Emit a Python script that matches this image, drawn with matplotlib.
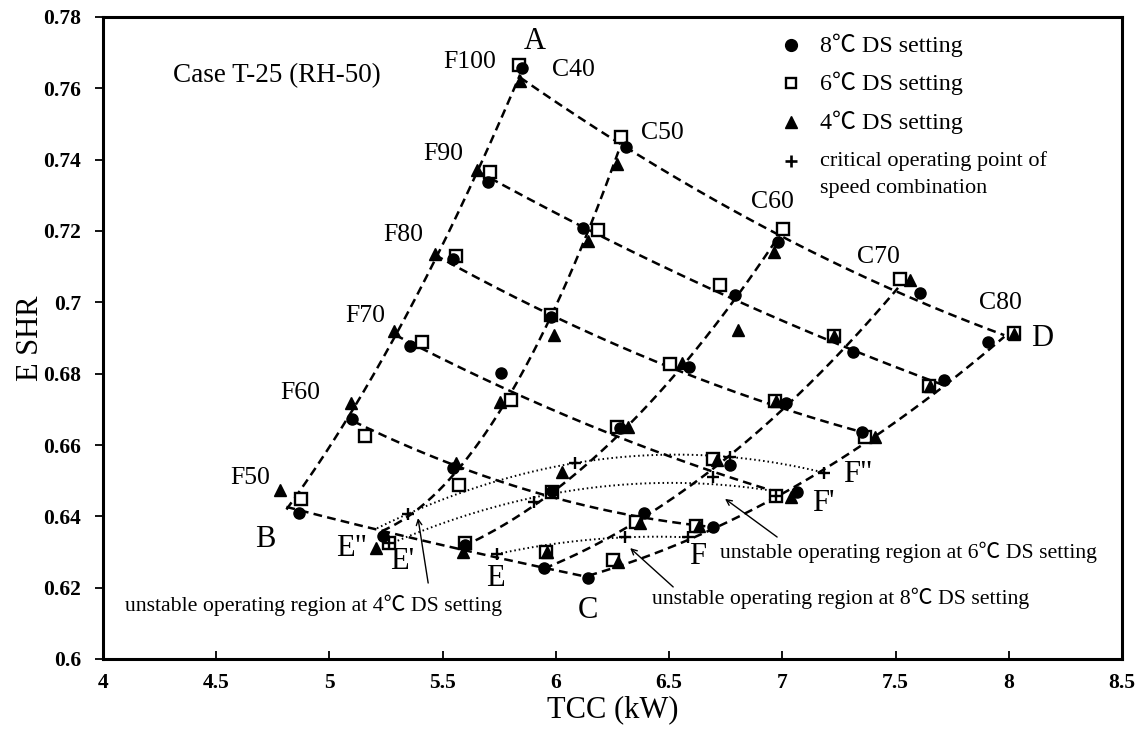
import numpy as np
import matplotlib
matplotlib.use("Agg")
import matplotlib.pyplot as plt
from matplotlib.ticker import MultipleLocator, FuncFormatter

plt.rcParams['font.family'] = ['Liberation Serif', 'Noto Sans CJK SC', 'DejaVu Sans']

# ---------------------------------------------------------------------------
# Data: rows = fan speed F50..F100, columns = compressor speed C40..C80
# ---------------------------------------------------------------------------
fan_speeds = ['F50', 'F60', 'F70', 'F80', 'F90', 'F100']
comp_speeds = ['C40', 'C50', 'C60', 'C70', 'C80']

# 8 degC DS setting
tcc_8 = [
    [4.867, 5.235, 5.600, 5.948, 6.144],
    [5.101, 5.545, 5.985, 6.387, 6.693],
    [5.356, 5.757, 6.281, 6.769, 7.064],
    [5.545, 5.980, 6.590, 7.017, 7.351],
    [5.699, 6.119, 6.792, 7.314, 7.716],
    [5.849, 6.309, 6.983, 7.606, 7.910],
]
shr_8 = [
    [0.6408, 0.6345, 0.6320, 0.6254, 0.6228],
    [0.6672, 0.6535, 0.6470, 0.6410, 0.6371],
    [0.6878, 0.6803, 0.6647, 0.6544, 0.6469],
    [0.7121, 0.6960, 0.6819, 0.6717, 0.6637],
    [0.7338, 0.7209, 0.7020, 0.6862, 0.6782],
    [0.7656, 0.7436, 0.7170, 0.7025, 0.6890],
]

# 6 degC DS setting
tcc_6 = [
    [4.875, 5.265, 5.599, 5.957, 6.254],
    [5.157, 5.570, 5.982, 6.354, 6.619],
    [5.408, 5.801, 6.269, 6.696, 6.973],
    [5.558, 5.977, 6.504, 6.968, 7.366],
    [5.709, 6.188, 6.725, 7.226, 7.646],
    [5.839, 6.287, 7.002, 7.520, 8.021],
]
shr_6 = [
    [0.6449, 0.6326, 0.6324, 0.6301, 0.6278],
    [0.6626, 0.6488, 0.6469, 0.6385, 0.6373],
    [0.6888, 0.6726, 0.6651, 0.6561, 0.6457],
    [0.7131, 0.6964, 0.6826, 0.6724, 0.6622],
    [0.7366, 0.7203, 0.7049, 0.6906, 0.6766],
    [0.7665, 0.7464, 0.7205, 0.7065, 0.6915],
]

# 4 degC DS setting
tcc_4 = [
    [4.782, 5.206, 5.592, 5.960, 6.276],
    [5.095, 5.559, 6.026, 6.372, 6.630],
    [5.287, 5.754, 6.320, 6.710, 7.037],
    [5.466, 5.992, 6.556, 6.970, 7.410],
    [5.653, 6.144, 6.803, 7.230, 7.650],
    [5.843, 6.272, 6.965, 7.564, 8.021],
]
shr_4 = [
    [0.6474, 0.6310, 0.6301, 0.6300, 0.6273],
    [0.6719, 0.6549, 0.6525, 0.6380, 0.6372],
    [0.6920, 0.6721, 0.6651, 0.6558, 0.6453],
    [0.7135, 0.6908, 0.6829, 0.6722, 0.6623],
    [0.7371, 0.7173, 0.6922, 0.6905, 0.6765],
    [0.7620, 0.7388, 0.7142, 0.7063, 0.6912],
]

# Speed-combination grid (dashed curves): nodes of constant F / constant C
grid_tcc = [
    [4.810, 5.231, 5.590, 5.948, 6.144],
    [5.105, 5.545, 5.980, 6.370, 6.660],
    [5.290, 5.784, 6.283, 6.720, 7.000],
    [5.466, 5.996, 6.540, 7.003, 7.420],
    [5.655, 6.150, 6.783, 7.270, 7.710],
    [5.842, 6.276, 6.990, 7.511, 7.980],
]
grid_shr = [
    [0.6430, 0.6348, 0.6317, 0.6254, 0.6228],
    [0.6670, 0.6535, 0.6465, 0.6395, 0.6372],
    [0.6915, 0.6740, 0.6628, 0.6530, 0.6455],
    [0.7135, 0.6956, 0.6805, 0.6712, 0.6620],
    [0.7370, 0.7195, 0.7015, 0.6875, 0.6768],
    [0.7632, 0.7446, 0.7184, 0.7035, 0.6905],
]

# Critical operating points of speed combination (boundary of unstable region)
crit_tcc_4 = [5.346, 6.085, 6.769, 7.185]
crit_shr_4 = [0.6407, 0.6549, 0.6567, 0.6522]
crit_tcc_6 = [5.265, 5.905, 6.693, 6.973]
crit_shr_6 = [0.6326, 0.6441, 0.6511, 0.6457]
crit_tcc_8 = [5.739, 6.303, 6.585]
crit_shr_8 = [0.6294, 0.6341, 0.6341]
# TCC range covered by each unstable-region boundary curve
region_tcc_4 = (5.21, 7.185)
region_tcc_6 = (5.265, 6.973)
region_tcc_8 = (5.739, 6.585)

# ---------------------------------------------------------------------------
fig = plt.figure(figsize=(11.35, 7.38), dpi=100)
ax = fig.add_axes([103 / 1135, 1 - 659 / 738, 1019 / 1135, 642 / 738])
ax.set_xlim(4, 8.5)
ax.set_ylim(0.6, 0.78)

dash_kw = dict(color='black', lw=1.8, dashes=(3.5, 2.1), zorder=1)


def fitted_curve(xs, ys, x0, x1, deg=2):
    coef = np.polyfit(xs, ys, deg)
    xx = np.linspace(x0, x1, 200)
    return xx, np.polyval(coef, xx)


gx = np.array(grid_tcc)
gy = np.array(grid_shr)
# constant fan speed curves
for i in range(gx.shape[0]):
    xx, yy = fitted_curve(gx[i], gy[i], gx[i].min(), gx[i].max())
    ax.plot(xx, yy, **dash_kw)
# constant compressor speed curves
for j in range(gx.shape[1]):
    xx, yy = fitted_curve(gx[:, j], gy[:, j], gx[:, j].min(), gx[:, j].max())
    ax.plot(xx, yy, **dash_kw)

# unstable-region boundary curves (dotted)
dot_kw = dict(color='black', lw=1.4, linestyle=(0, (0.8, 1.5)), zorder=1)
for cx, cy, (a, b) in [(crit_tcc_4, crit_shr_4, region_tcc_4),
                       (crit_tcc_6, crit_shr_6, region_tcc_6),
                       (crit_tcc_8, crit_shr_8, region_tcc_8)]:
    xx, yy = fitted_curve(cx, cy, a, b)
    ax.plot(xx, yy, **dot_kw)

# measured points
ax.plot(np.ravel(tcc_6), np.ravel(shr_6), linestyle='none', marker='s', ms=8,
        mfc='white', mec='black', mew=1.7, zorder=3)
ax.plot(np.ravel(tcc_8), np.ravel(shr_8), linestyle='none', marker='o', ms=8,
        color='black', zorder=4)
ax.plot(np.ravel(tcc_4), np.ravel(shr_4), linestyle='none', marker='^', ms=8,
        color='black', zorder=5)
crit_x = crit_tcc_4 + crit_tcc_6 + crit_tcc_8
crit_y = crit_shr_4 + crit_shr_6 + crit_shr_8
ax.plot(crit_x, crit_y, linestyle='none', marker='+', ms=8.5, mew=1.7,
        color='black', zorder=6)

# speed labels
speed_label_pos = {
    'F100': (5.621, 0.7674), 'F90': (5.502, 0.7416), 'F80': (5.325, 0.7189),
    'F70': (5.157, 0.6962), 'F60': (4.870, 0.6746), 'F50': (4.649, 0.6507),
    'C40': (6.076, 0.7650), 'C50': (6.469, 0.7475), 'C60': (6.955, 0.7281),
    'C70': (7.423, 0.7127), 'C80': (7.962, 0.6998),
}
for name in fan_speeds + comp_speeds:
    x, y = speed_label_pos[name]
    ax.text(x, y, name, fontsize=18.5, ha='center', va='center')

corner_label_pos = {
    'A': (5.908, 0.7730), 'B': (4.716, 0.6334), 'C': (6.142, 0.6137),
    'D': (8.147, 0.6900), 'E': (5.731, 0.6227), 'F': (6.624, 0.6286),
    "E'": (5.321, 0.6272), "F'": (7.180, 0.6437),
    'E"': (5.100, 0.6311), 'F"': (7.335, 0.6516),
}
for name, (x, y) in corner_label_pos.items():
    ax.text(x, y, name, fontsize=22, ha='center', va='center')

ax.text(4.309, 0.7637, 'Case T-25 (RH-50)', fontsize=19.5, ha='left', va='center')

# unstable region annotations
arrow_kw = dict(arrowstyle='->', lw=1.0, color='black', shrinkA=0, shrinkB=0,
                mutation_scale=10)
ax.text(4.097, 0.6151, 'unstable operating region at 4℃ DS setting',
        fontsize=15.7, ha='left', va='center')
ax.annotate('', xy=(5.391, 0.6395), xytext=(5.436, 0.6213), arrowprops=arrow_kw)
ax.text(6.425, 0.6171, 'unstable operating region at 8℃ DS setting',
        fontsize=15.7, ha='left', va='center')
ax.annotate('', xy=(6.328, 0.6311), xytext=(6.518, 0.6202), arrowprops=arrow_kw)
ax.text(6.725, 0.6300, 'unstable operating region at 6℃ DS setting',
        fontsize=15.7, ha='left', va='center')
ax.annotate('', xy=(6.747, 0.6449), xytext=(6.977, 0.6342), arrowprops=arrow_kw)

# legend
leg_mx, leg_tx = 0.675, 0.7036
leg_rows = [0.9564, 0.8972, 0.8364, 0.7757]
tr = ax.transAxes
ax.plot([leg_mx], [leg_rows[0]], 'o', ms=8.5, color='black', transform=tr, clip_on=False)
ax.plot([leg_mx], [leg_rows[1]], 's', ms=7, mfc='white', mec='black', mew=1.7,
        transform=tr, clip_on=False)
ax.plot([leg_mx], [leg_rows[2]], '^', ms=8.5, color='black', transform=tr, clip_on=False)
ax.plot([leg_mx], [leg_rows[3]], '+', ms=8.5, mew=1.9, color='black', transform=tr,
        clip_on=False)
ax.text(leg_tx, leg_rows[0], '8℃ DS setting', fontsize=17.3, va='center', transform=tr)
ax.text(leg_tx, leg_rows[1], '6℃ DS setting', fontsize=17.3, va='center', transform=tr)
ax.text(leg_tx, leg_rows[2], '4℃ DS setting', fontsize=17.3, va='center', transform=tr)
ax.text(leg_tx, leg_rows[3], 'critical operating point of', fontsize=16,
        va='center', transform=tr)
ax.text(leg_tx, 0.7336, 'speed combination', fontsize=16, va='center', transform=tr)

# axes styling
ax.xaxis.set_major_locator(MultipleLocator(0.5))
ax.yaxis.set_major_locator(MultipleLocator(0.02))
fmt = FuncFormatter(lambda v, _: f'{round(v, 4):g}')
ax.xaxis.set_major_formatter(fmt)
ax.yaxis.set_major_formatter(fmt)
ax.tick_params(axis='x', direction='in', length=6, width=1.3, pad=10,
               labelsize=15.5)
ax.tick_params(axis='y', direction='out', length=6, width=1.3, pad=10,
               labelsize=15.5)
for lab in ax.get_xticklabels() + ax.get_yticklabels():
    lab.set_fontweight('bold')
for sp in ax.spines.values():
    sp.set_linewidth(2.2)

ax.set_xlabel('TCC (kW)', fontsize=22)
ax.set_ylabel('E SHR', fontsize=22)
ax.xaxis.label.set_va('center')
ax.yaxis.label.set_va('center')
ax.xaxis.set_label_coords(0.5, -0.0794)
ax.yaxis.set_label_coords(-0.0716, 0.5)

fig.savefig('out.png', dpi=100)
